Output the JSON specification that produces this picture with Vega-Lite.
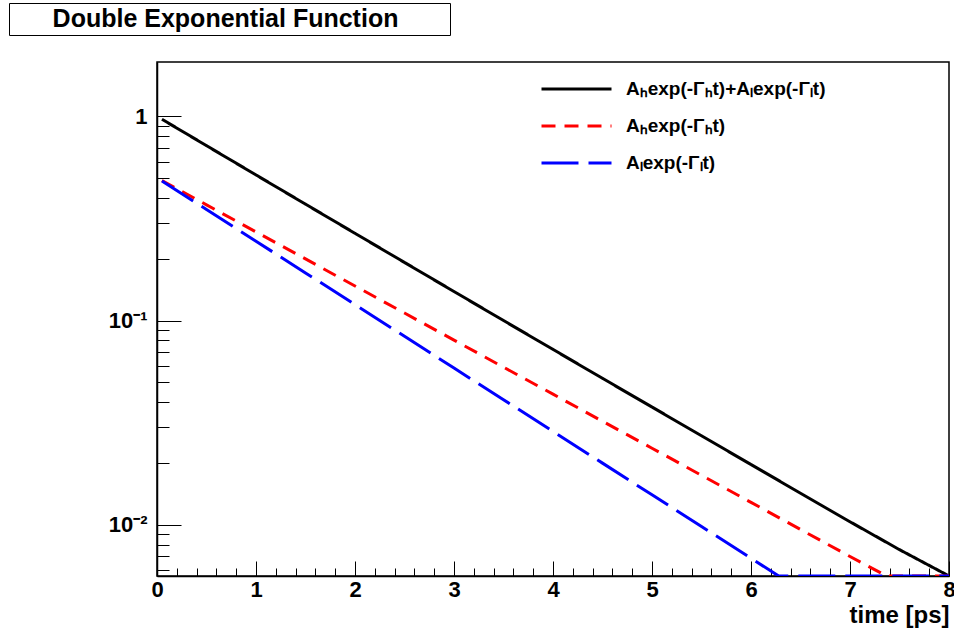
{
  "$schema": "https://vega.github.io/schema/vega-lite/v6.json",
  "background": "white",
  "padding": {"left": 8, "top": 2, "right": 0, "bottom": 0},
  "spacing": 25,
  "config": {"font": "Liberation Sans"},
  "vconcat": [
    {
      "width": 441,
      "height": 32,
      "view": {"stroke": "black", "strokeWidth": 1},
      "data": {"values": [{"label": "Double Exponential Function"}]},
      "mark": {"type": "text", "font": "Liberation Sans", "fontWeight": "bold", "fontSize": 25, "baseline": "middle", "align": "center", "dx": -4, "color": "black"},
      "encoding": {"text": {"field": "label"}}
    },
    {
      "spacing": 0,
      "hconcat": [
        {
          "width": 1,
          "height": 1,
          "view": {"stroke": null},
          "data": {"values": []},
          "mark": "point"
        },
        {
          "width": 792,
          "height": 514,
          "view": {"stroke": "black", "strokeWidth": 1.5},
          "data": {
            "values": [
              {"series": "Aₕexp(-Γₕt)+Aₗexp(-Γₗt)", "t": 0.05, "v": 0.9674},
              {"series": "Aₕexp(-Γₕt)+Aₗexp(-Γₗt)", "t": 0.5, "v": 0.7183},
              {"series": "Aₕexp(-Γₕt)+Aₗexp(-Γₗt)", "t": 1, "v": 0.5163},
              {"series": "Aₕexp(-Γₕt)+Aₗexp(-Γₗt)", "t": 1.5, "v": 0.3714},
              {"series": "Aₕexp(-Γₕt)+Aₗexp(-Γₗt)", "t": 2, "v": 0.2673},
              {"series": "Aₕexp(-Γₕt)+Aₗexp(-Γₗt)", "t": 2.5, "v": 0.1925},
              {"series": "Aₕexp(-Γₕt)+Aₗexp(-Γₗt)", "t": 3, "v": 0.1387},
              {"series": "Aₕexp(-Γₕt)+Aₗexp(-Γₗt)", "t": 3.5, "v": 0.1000},
              {"series": "Aₕexp(-Γₕt)+Aₗexp(-Γₗt)", "t": 4, "v": 0.0722},
              {"series": "Aₕexp(-Γₕt)+Aₗexp(-Γₗt)", "t": 4.5, "v": 0.0521},
              {"series": "Aₕexp(-Γₕt)+Aₗexp(-Γₗt)", "t": 5, "v": 0.0377},
              {"series": "Aₕexp(-Γₕt)+Aₗexp(-Γₗt)", "t": 5.5, "v": 0.02726},
              {"series": "Aₕexp(-Γₕt)+Aₗexp(-Γₗt)", "t": 6, "v": 0.01972},
              {"series": "Aₕexp(-Γₕt)+Aₗexp(-Γₗt)", "t": 6.5, "v": 0.01427},
              {"series": "Aₕexp(-Γₕt)+Aₗexp(-Γₗt)", "t": 7, "v": 0.01034},
              {"series": "Aₕexp(-Γₕt)+Aₗexp(-Γₗt)", "t": 7.5, "v": 0.00755},
              {"series": "Aₕexp(-Γₕt)+Aₗexp(-Γₗt)", "t": 8, "v": 0.00561},
              {"series": "Aₕexp(-Γₕt)", "t": 0.05, "v": 0.4850},
              {"series": "Aₕexp(-Γₕt)", "t": 0.5, "v": 0.3686},
              {"series": "Aₕexp(-Γₕt)", "t": 1, "v": 0.2717},
              {"series": "Aₕexp(-Γₕt)", "t": 1.5, "v": 0.2003},
              {"series": "Aₕexp(-Γₕt)", "t": 2, "v": 0.1476},
              {"series": "Aₕexp(-Γₕt)", "t": 2.5, "v": 0.1088},
              {"series": "Aₕexp(-Γₕt)", "t": 3, "v": 0.0802},
              {"series": "Aₕexp(-Γₕt)", "t": 3.5, "v": 0.0591},
              {"series": "Aₕexp(-Γₕt)", "t": 4, "v": 0.0436},
              {"series": "Aₕexp(-Γₕt)", "t": 4.5, "v": 0.0321},
              {"series": "Aₕexp(-Γₕt)", "t": 5, "v": 0.0237},
              {"series": "Aₕexp(-Γₕt)", "t": 5.5, "v": 0.01746},
              {"series": "Aₕexp(-Γₕt)", "t": 6, "v": 0.01287},
              {"series": "Aₕexp(-Γₕt)", "t": 6.5, "v": 0.00948},
              {"series": "Aₕexp(-Γₕt)", "t": 7, "v": 0.00699},
              {"series": "Aₕexp(-Γₕt)", "t": 7.37, "v": 0.00561},
              {"series": "Aₕexp(-Γₕt)", "t": 7.5, "v": 0.00515},
              {"series": "Aₕexp(-Γₕt)", "t": 8, "v": 0.00380},
              {"series": "Aₗexp(-Γₗt)", "t": 0.05, "v": 0.4824},
              {"series": "Aₗexp(-Γₗt)", "t": 0.5, "v": 0.3497},
              {"series": "Aₗexp(-Γₗt)", "t": 1, "v": 0.2446},
              {"series": "Aₗexp(-Γₗt)", "t": 1.5, "v": 0.1711},
              {"series": "Aₗexp(-Γₗt)", "t": 2, "v": 0.1197},
              {"series": "Aₗexp(-Γₗt)", "t": 2.5, "v": 0.0837},
              {"series": "Aₗexp(-Γₗt)", "t": 3, "v": 0.0585},
              {"series": "Aₗexp(-Γₗt)", "t": 3.5, "v": 0.04094},
              {"series": "Aₗexp(-Γₗt)", "t": 4, "v": 0.02864},
              {"series": "Aₗexp(-Γₗt)", "t": 4.5, "v": 0.02003},
              {"series": "Aₗexp(-Γₗt)", "t": 5, "v": 0.01401},
              {"series": "Aₗexp(-Γₗt)", "t": 5.5, "v": 0.00980},
              {"series": "Aₗexp(-Γₗt)", "t": 6, "v": 0.00685},
              {"series": "Aₗexp(-Γₗt)", "t": 6.28, "v": 0.00561},
              {"series": "Aₗexp(-Γₗt)", "t": 6.5, "v": 0.00479},
              {"series": "Aₗexp(-Γₗt)", "t": 7, "v": 0.00335},
              {"series": "Aₗexp(-Γₗt)", "t": 7.5, "v": 0.00234},
              {"series": "Aₗexp(-Γₗt)", "t": 8, "v": 0.00164}
            ]
          },
          "mark": {"type": "line", "strokeWidth": 3, "clip": true},
          "encoding": {
            "x": {
              "field": "t",
              "type": "quantitative",
              "scale": {"domain": [0, 8], "nice": false, "zero": false},
              "axis": {
                "values": [0, 0.2, 0.4, 0.6, 0.8, 1, 1.2, 1.4, 1.6, 1.8, 2, 2.2, 2.4, 2.6, 2.8, 3, 3.2, 3.4, 3.6, 3.8, 4, 4.2, 4.4, 4.6, 4.8, 5, 5.2, 5.4, 5.6, 5.8, 6, 6.2, 6.4, 6.6, 6.8, 7, 7.2, 7.4, 7.6, 7.8, 8],
                "labelExpr": "abs(datum.value - round(datum.value)) < 0.001 ? format(datum.value, 'd') : ''",
                "labelFont": "Liberation Sans",
                "labelFontWeight": "bold",
                "labelFontSize": 22,
                "labelColor": "black",
                "labelFlush": false,
                "labelOverlap": false,
                "labelPadding": 18,
                "tickSize": {"condition": {"test": "abs(datum.value - round(datum.value)) < 0.001", "value": -15}, "value": -8},
                "tickColor": "black",
                "tickWidth": 1,
                "domainColor": "black",
                "domainWidth": 1.5,
                "grid": false,
                "title": "time [ps]",
                "titleFont": "Liberation Sans",
                "titleFontWeight": "bold",
                "titleFontSize": 24,
                "titleColor": "black",
                "titleAnchor": "end",
                "titlePadding": -4
              }
            },
            "y": {
              "field": "v",
              "type": "quantitative",
              "scale": {"type": "log", "domain": [0.00561, 1.845], "nice": false, "clamp": true},
              "axis": {
                "values": [0.006, 0.007, 0.008, 0.009, 0.01, 0.02, 0.03, 0.04, 0.05, 0.06, 0.07, 0.08, 0.09, 0.1, 0.2, 0.3, 0.4, 0.5, 0.6, 0.7, 0.8, 0.9, 1],
                "labelExpr": "datum.value == 1 ? '1' : datum.value == 0.1 ? '10⁻¹' : datum.value == 0.01 ? '10⁻²' : ''",
                "labelFont": "Liberation Sans",
                "labelFontWeight": "bold",
                "labelFontSize": 22,
                "labelColor": "black",
                "labelOverlap": false,
                "labelPadding": 34,
                "tickSize": {"condition": {"test": "datum.value == 1 || datum.value == 0.1 || datum.value == 0.01", "value": -24}, "value": -12},
                "tickColor": "black",
                "tickWidth": 1,
                "domainColor": "black",
                "domainWidth": 1.5,
                "grid": false,
                "title": ".",
                "titleX": -146,
                "titleY": 0,
                "titleAngle": 0,
                "titleAlign": "left",
                "titleBaseline": "top",
                "titleFontSize": 2,
                "titleColor": "white"
              }
            },
            "color": {
              "field": "series",
              "type": "nominal",
              "scale": {"domain": ["Aₕexp(-Γₕt)+Aₗexp(-Γₗt)", "Aₕexp(-Γₕt)", "Aₗexp(-Γₗt)"], "range": ["black", "#ff0000", "#0000ff"]},
              "legend": {
                "title": null,
                "orient": "none",
                "legendX": 531,
                "legendY": 76,
                "symbolType": "stroke",
                "symbolSize": 4900,
                "symbolStrokeWidth": 3,
                "clipHeight": 20,
                "rowPadding": 17,
                "labelFont": "Liberation Sans",
                "labelFontWeight": "bold",
                "labelFontSize": 19,
                "labelColor": "black",
                "labelOffset": 13,
                "labelLimit": 400
              }
            },
            "strokeDash": {
              "field": "series",
              "type": "nominal",
              "scale": {"domain": ["Aₕexp(-Γₕt)+Aₗexp(-Γₗt)", "Aₕexp(-Γₕt)", "Aₗexp(-Γₗt)"], "range": [[1, 0], [14, 9], [37, 10]]}
            }
          }
        }
      ]
    }
  ]
}
